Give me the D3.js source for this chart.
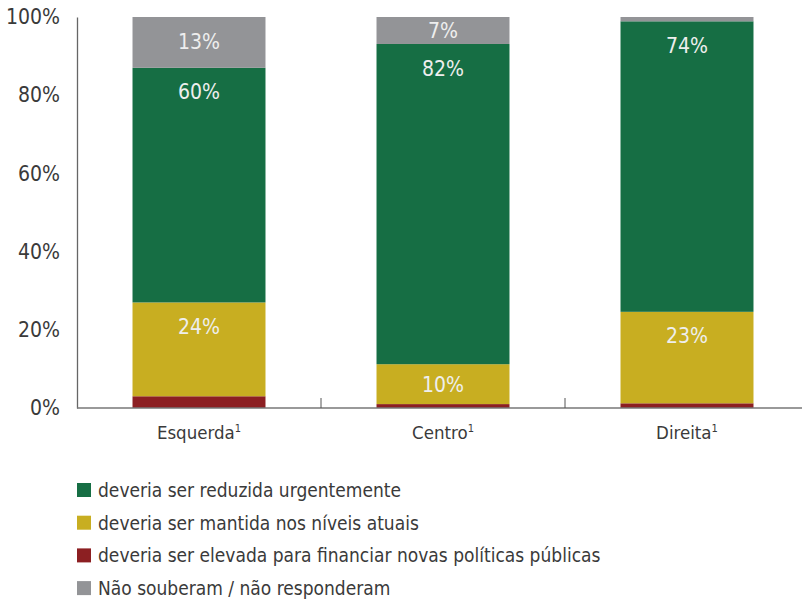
<!DOCTYPE html>
<html>
<head>
<meta charset="utf-8">
<script src="https://cdn.jsdelivr.net/npm/d3@7"></script>
<style>
  body { margin: 0; background: #fff; }
  .chart text { font-family: "Liberation Sans Narrow", "DejaVu Sans Condensed", sans-serif; }
</style>
</head>
<body>
<div class="chart"></div>
<script>
var width = 802;
var height = 599;

// data, in percent (bottom to top of each bar)
var categories = ['Esquerda', 'Centro', 'Direita'];
var series_names = [
  'deveria ser elevada para financiar novas políticas públicas',
  'deveria ser mantida nos níveis atuais',
  'deveria ser reduzida urgentemente',
  'Não souberam / não responderam'
];
var elevada = [3, 1, 1.2];
var mantida = [24, 10.2, 23.4];
var reduzida = [60, 81.9, 74.3];
var nao_sabe = [13, 6.9, 1.1];
var y_ticks = [0, 20, 40, 60, 80, 100];
var legend_order = [2, 1, 0, 3];

var colors = ['#8c1f22', '#c8ae21', '#166e44', '#939497'];

var chart_svg = d3.select('.chart').append('svg')
  .attr('width', width)
  .attr('height', height);

var x = d3.scaleBand()
  .domain(categories)
  .range([77, 809])
  .paddingInner(0.455)
  .paddingOuter(0.2275);

var y = d3.scaleLinear()
  .domain([0, 100])
  .range([408, 17]);

// build stack table
var table = categories.map(function(c, i) {
  return { cat: c, s0: elevada[i], s1: mantida[i], s2: reduzida[i], s3: nao_sabe[i] };
});
var stack = d3.stack().keys(['s0', 's1', 's2', 's3']);
var layers = stack(table);

var groups = chart_svg.append('g').attr('class', 'bars')
  .selectAll('g')
  .data(layers)
  .enter().append('g')
  .attr('fill', function(d, i) { return colors[i]; });

groups.selectAll('rect')
  .data(function(d) { return d; })
  .enter().append('rect')
  .attr('x', function(d) { return x(d.data.cat); })
  .attr('width', x.bandwidth())
  .attr('y', function(d) { return y(d[1]); })
  .attr('height', function(d) { return y(d[0]) - y(d[1]); });

// value labels (inside end)
groups.selectAll('text')
  .data(function(d) { return d.filter(function(p) { return p[1] - p[0] >= 5; }); })
  .enter().append('text')
  .attr('x', function(d) { return x(d.data.cat) + x.bandwidth() / 2; })
  .attr('y', function(d) {
    var h = y(d[0]) - y(d[1]);
    return y(d[1]) + Math.min(24, h / 2);
  })
  .attr('dy', '0.36em')
  .attr('text-anchor', 'middle')
  .attr('fill', '#eeeeee')
  .attr('font-size', '21px')
  .text(function(d) { return d3.format('.0f')(d[1] - d[0]) + '%'; });

// y axis
var yAxis = d3.axisLeft(y)
  .tickValues(y_ticks)
  .tickFormat(function(d) { return d + '%'; })
  .tickSize(0)
  .tickPadding(17);

var ya = chart_svg.append('g')
  .attr('transform', 'translate(77,0)')
  .call(yAxis);
ya.select('.domain').attr('stroke', '#666').attr('stroke-width', 1.3);
ya.selectAll('text')
  .attr('font-size', '21px')
  .attr('fill', '#3a3a3a');

// x axis baseline with separators
var xa = chart_svg.append('g').attr('class', 'x-axis');
xa.append('line')
  .attr('x1', 77).attr('x2', width)
  .attr('y1', y(0)).attr('y2', y(0))
  .attr('stroke', '#777').attr('stroke-width', 1.3);

var step = x.step();
xa.selectAll('.sep')
  .data(categories.slice(1))
  .enter().append('line')
  .attr('class', 'sep')
  .attr('x1', function(d) { return x(d) - (step - x.bandwidth()) / 2; })
  .attr('x2', function(d) { return x(d) - (step - x.bandwidth()) / 2; })
  .attr('y1', y(0)).attr('y2', y(0) - 10)
  .attr('stroke', '#555').attr('stroke-width', 1);

var xl = xa.selectAll('.cat')
  .data(categories)
  .enter().append('text')
  .attr('class', 'cat')
  .attr('x', function(d) { return x(d) + x.bandwidth() / 2; })
  .attr('y', 439)
  .attr('text-anchor', 'middle')
  .attr('font-size', '18.5px')
  .attr('fill', '#3a3a3a');
xl.append('tspan').text(function(d) { return d; });
xl.append('tspan')
  .attr('font-size', '11px')
  .attr('dy', '-7')
  .text('1');

// legend
var legend = chart_svg.append('g').attr('class', 'legend')
  .selectAll('g')
  .data(legend_order)
  .enter().append('g')
  .attr('transform', function(d, i) { return 'translate(77,' + (490 + i * 32.7) + ')'; });

legend.append('rect')
  .attr('x', 0).attr('y', -7)
  .attr('width', 14).attr('height', 14)
  .attr('fill', function(d) { return colors[d]; });

legend.append('text')
  .attr('x', 21)
  .attr('dy', '0.36em')
  .attr('font-size', '19px')
  .attr('fill', '#3a3a3a')
  .text(function(d) { return series_names[d]; });
</script>
</body>
</html>
